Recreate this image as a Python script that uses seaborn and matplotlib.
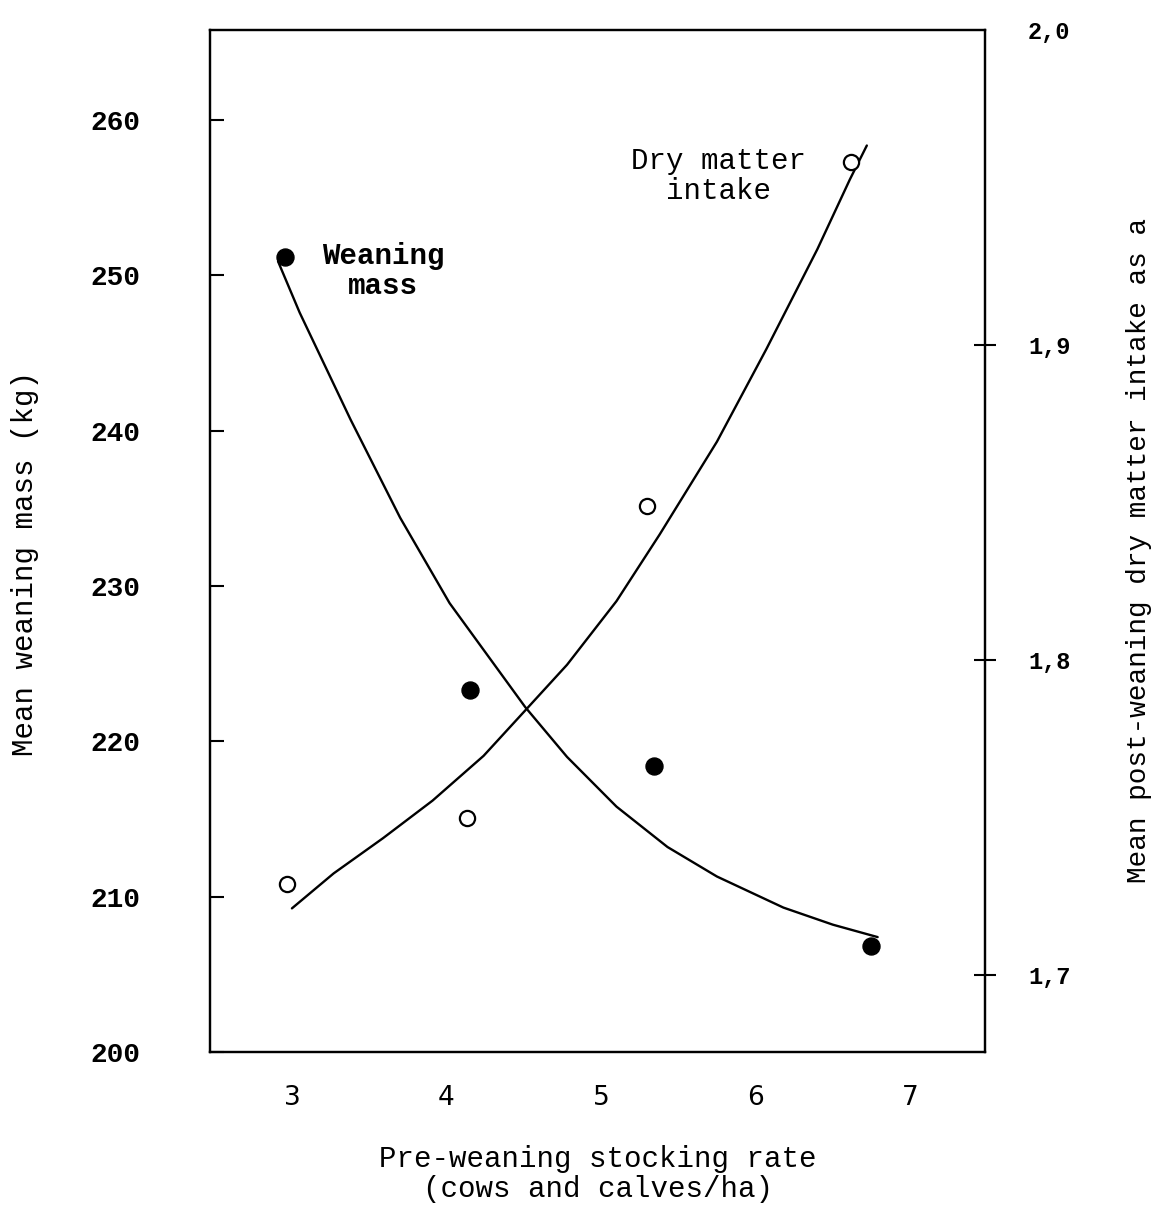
import matplotlib
matplotlib.use("Agg")
import matplotlib.pyplot as plt
import seaborn as sns

# Observed means
stocking_rate_mass = [2.955, 4.15, 5.34, 6.75]
weaning_mass = [251.2, 223.3, 218.4, 206.8]

stocking_rate_intake = [2.97, 4.13, 5.30, 6.62]
dm_intake = [1.729, 1.750, 1.849, 1.958]

# Fitted response curves (traced points)
mass_curve_x = [2.91, 3.05, 3.38, 3.70, 4.02, 4.51, 4.78, 5.10, 5.43, 5.75, 6.18, 6.50, 6.79]
mass_curve_y = [250.9, 247.6, 240.7, 234.4, 228.9, 222.2, 219.0, 215.8, 213.2, 211.3, 209.3, 208.2, 207.4]

intake_curve_x = [3.00, 3.27, 3.59, 3.91, 4.24, 4.50, 4.78, 5.10, 5.38, 5.75, 6.07, 6.40, 6.61, 6.72]
intake_curve_y = [1.7212, 1.7323, 1.7435, 1.7554, 1.7696, 1.7835, 1.7985, 1.8187, 1.8399,
                  1.8693, 1.8987, 1.9304, 1.9525, 1.9633]

x_ticks = [3, 4, 5, 6, 7]
left_ticks = [200, 210, 220, 230, 240, 250, 260]
right_ticks = [1.7, 1.8, 1.9, 2.0]
right_tick_labels = ["1,7", "1,8", "1,9", "2,0"]

sns.set_theme(style="white")
plt.rcParams["font.family"] = ["Liberation Mono", "DejaVu Sans Mono"]

MONO = ["Liberation Mono", "DejaVu Sans Mono"]
NARROW = ["Liberation Sans Narrow", "DejaVu Sans"]

fig = plt.figure(figsize=(11.54, 12.14), dpi=100)
ax = fig.add_axes([0.182, 0.1334, 0.6716, 0.842])
ax2 = ax.twinx()

# Weaning mass: curve + filled markers
sns.lineplot(x=mass_curve_x, y=mass_curve_y, ax=ax, color="black", linewidth=1.7,
             sort=False, estimator=None)
sns.scatterplot(x=stocking_rate_mass, y=weaning_mass, ax=ax, color="black",
                edgecolor="black", s=150, zorder=4)

# Dry matter intake: curve + open markers
sns.lineplot(x=intake_curve_x, y=intake_curve_y, ax=ax2, color="black", linewidth=1.7,
             sort=False, estimator=None)
sns.scatterplot(x=stocking_rate_intake, y=dm_intake, ax=ax2, color="white",
                edgecolor="black", linewidth=1.6, s=120, zorder=4)

for line in ax.lines + ax2.lines:
    line.set_solid_joinstyle("round")
    line.set_solid_capstyle("round")

ax.set_xlim(2.47, 7.485)
ax.set_ylim(200, 265.8)
ax2.set_ylim(1.6756, 2.0)

ax.set_xticks(x_ticks)
ax.set_xticklabels([str(v) for v in x_ticks], family=NARROW, fontsize=19)
ax.set_yticks(left_ticks)
ax.set_yticklabels([str(v) for v in left_ticks], family=MONO, fontsize=20, fontweight="bold")
ax2.set_yticks(right_ticks)
ax2.set_yticklabels(right_tick_labels, family=MONO, fontsize=17, fontweight="bold")

ax.tick_params(axis="y", direction="in", length=10, width=1.5, pad=50, colors="black")
ax.tick_params(axis="x", direction="in", length=10, width=1.5, pad=24, colors="black")
ax2.tick_params(axis="y", direction="inout", length=16, width=1.5, pad=23, colors="black")

# no tick mark at the top of the right scale, only its label
top_tick = ax2.yaxis.get_major_ticks()[-1]
top_tick.tick1line.set_visible(False)
top_tick.tick2line.set_visible(False)

for a in (ax, ax2):
    for sp in a.spines.values():
        sp.set_linewidth(1.6)
        sp.set_color("black")

ax.set_xlabel("Pre-weaning stocking rate\n(cows and calves/ha)", family=MONO, fontsize=21,
              linespacing=1.1, labelpad=24, color="black")
ax.set_ylabel("Mean weaning mass (kg)", family=MONO, fontsize=21, color="black",
              va="center", ha="center")
ax.yaxis.set_label_coords(-0.239, 0.478)
ax2.set_ylabel("Mean post-weaning dry matter intake as a", family=MONO, fontsize=20,
               color="black", va="center", ha="center", rotation=90)
ax2.yaxis.set_label_coords(1.198, 0.491)

ax.text(3.59, 250.3, "Weaning\nmass", family=MONO, fontsize=21, fontweight="bold",
        ha="center", va="center", linespacing=1.1, color="black")
ax.text(5.76, 256.4, "Dry matter\nintake", family=MONO, fontsize=21,
        ha="center", va="center", linespacing=1.1, color="black")

fig.savefig("out.png", dpi=100, facecolor="white")
